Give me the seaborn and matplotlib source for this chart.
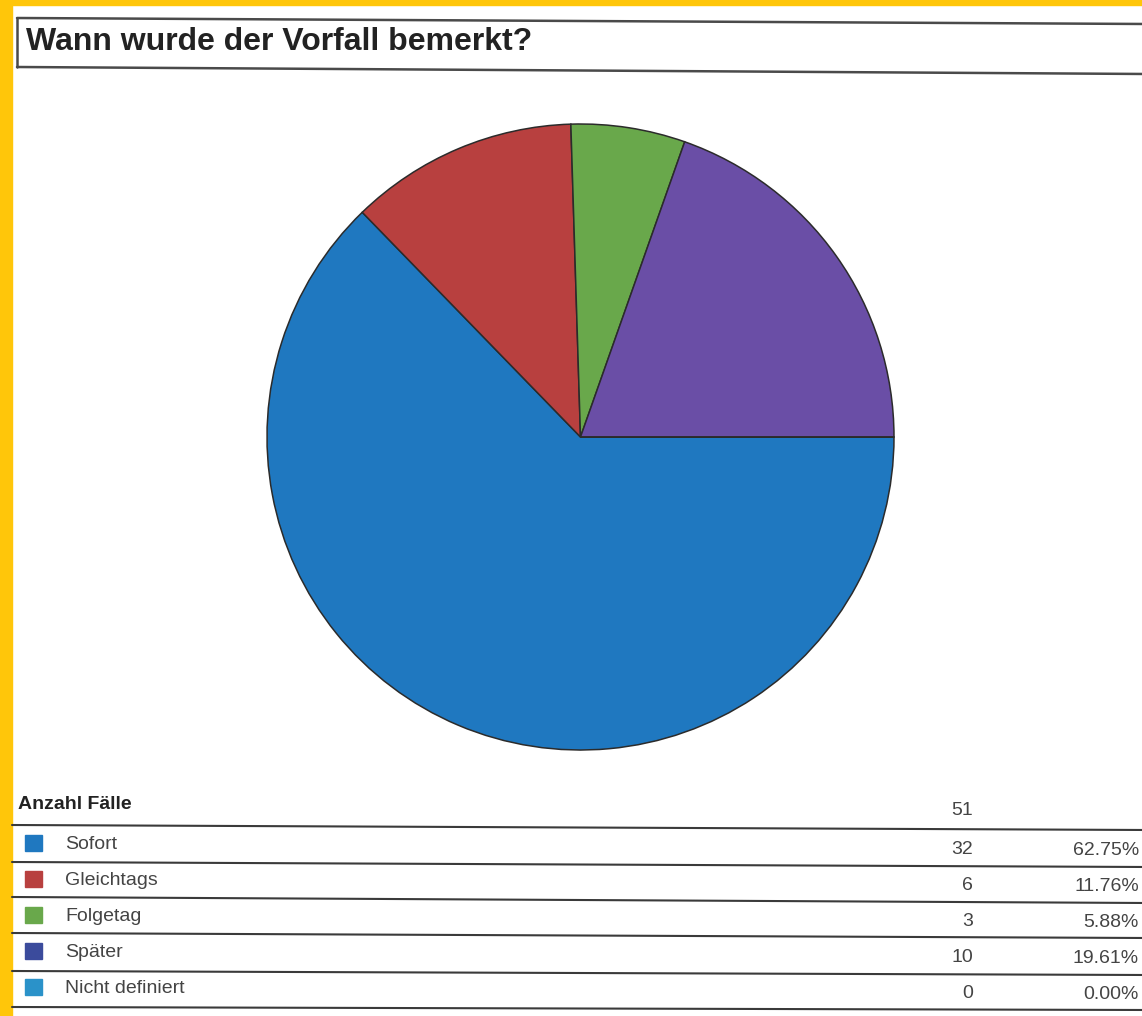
import matplotlib
matplotlib.use("Agg")
import matplotlib.pyplot as plt
from matplotlib.patches import Rectangle
import seaborn as sns

sns.set_theme(style="white")
plt.rcParams["font.family"] = ["Liberation Sans", "DejaVu Sans"]

title = "Wann wurde der Vorfall bemerkt?"
table_header = "Anzahl Fälle"
categories = ["Sofort", "Gleichtags", "Folgetag", "Später", "Nicht definiert"]
counts = [32, 6, 3, 10, 0]
slice_colors = ["#1f78c0", "#b8403f", "#69a84b", "#6a4ea6", "#2a92c9"]
legend_colors = ["#1f78c0", "#b8403f", "#69a84b", "#3b4b9c", "#2a92c9"]

W, H = 1142, 1016
fig = plt.figure(figsize=(W / 100, H / 100), dpi=100)
fig.patch.set_facecolor("white")

# overlay axes in pixel coordinates for frame, title box and table
ov = fig.add_axes([0, 0, 1, 1])
ov.set_xlim(0, W)
ov.set_ylim(H, 0)
ov.axis("off")

# yellow page border
ov.add_patch(Rectangle((0, 0), 12, H, color="#ffc60a", zorder=0))
ov.add_patch(Rectangle((0, 0), W, 5, color="#ffc60a", zorder=0))

# title box (open on the right, page is slightly skewed)
box_col = "#4a4a4a"
ov.plot([17, W + 5], [18, 24], color=box_col, lw=1.8)
ov.plot([17, W + 5], [67, 74], color=box_col, lw=1.8)
ov.plot([17, 17], [18, 67], color=box_col, lw=1.8)
ov.text(26, 50, title, fontsize=23, fontweight="bold", color="#222222",
        va="baseline", ha="left")

# pie chart
px_l, px_r, px_t, px_b = 267, 894, 124, 750
pie_ax = fig.add_axes([px_l / W, 1 - px_b / H, (px_r - px_l) / W, (px_b - px_t) / H])
pie_ax.pie(counts, colors=slice_colors, startangle=0, counterclock=False,
           radius=1.0, wedgeprops=dict(edgecolor="#2b2b2b", linewidth=1.1))
pie_ax.set_xlim(-1.0, 1.0)
pie_ax.set_ylim(-1.0, 1.0)
pie_ax.set_aspect("auto")
pie_ax.axis("off")

# table
total = sum(counts)
text_col = "#444444"
line_col = "#3a3a3a"
fs = 14
ov.text(18, 809, table_header, fontsize=fs, fontweight="bold", color="#222222",
        va="baseline", ha="left")
ov.text(973, 815, str(total), fontsize=fs, color=text_col, va="baseline", ha="right")

line_left = [825, 862, 897, 933, 971, 1007]
line_right = [830, 867, 903, 938, 975, 1010]
for yl, yr in zip(line_left, line_right):
    ov.plot([12, W + 5], [yl, yr], color=line_col, lw=1.5)

row_base = [849, 885, 921, 957, 993]
for i, (cat, n) in enumerate(zip(categories, counts)):
    yb = row_base[i]
    ov.add_patch(Rectangle((25, yb - 14), 17, 16, color=legend_colors[i], zorder=3))
    ov.text(65, yb, cat, fontsize=fs, color=text_col, va="baseline", ha="left")
    ov.text(973, yb + 5, str(n), fontsize=fs, color=text_col,
            va="baseline", ha="right")
    ov.text(1139, yb + 6, f"{100 * n / total:.2f}%", fontsize=fs, color=text_col,
            va="baseline", ha="right")

fig.savefig("out.png", dpi=100, facecolor="white")
